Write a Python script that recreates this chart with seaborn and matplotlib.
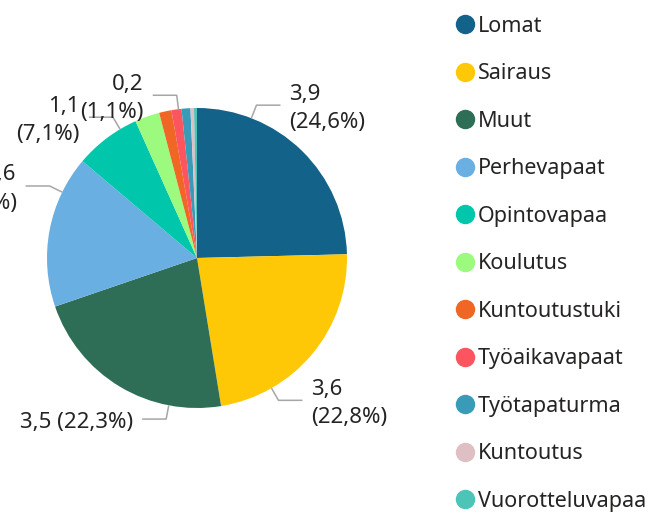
import numpy as np
import matplotlib
matplotlib.use("Agg")
import matplotlib.pyplot as plt
import seaborn as sns
from matplotlib.lines import Line2D

# data
categories = ['Lomat', 'Sairaus', 'Muut', 'Perhevapaat', 'Opintovapaa', 'Koulutus',
              'Kuntoutustuki', 'Työaikavapaat', 'Työtapaturma', 'Kuntoutus', 'Vuorotteluvapaa']
values = [3.88, 3.60, 3.52, 2.59, 1.12, 0.42, 0.21, 0.17, 0.15, 0.06, 0.05]
colors = ['#12628A', '#FFC807', '#2E6D56', '#6AAFE1', '#00C6AB', '#9CFA7E',
          '#F06624', '#FD5560', '#3A9BB8', '#DEC0C4', '#4CC4B8']

# which slices get a data label: (index, anchor fraction inside wedge, one line?)
shown_labels = [(0, 0.24, False), (1, 0.75, False), (2, 0.25, True),
                (3, 0.76, False), (4, 0.74, False), (7, 0.70, False)]

sns.set_theme(style="white")
plt.rcParams['font.family'] = ['Noto Sans', 'DejaVu Sans']
txt_color = '#252423'

fig = plt.figure(figsize=(6.54, 5.16), dpi=100)
ax = fig.add_axes([0, 0, 1, 1])

R = 150
wedges, _ = ax.pie(values, colors=sns.color_palette(colors), startangle=90,
                   counterclock=False, radius=R, center=(0, 0),
                   wedgeprops=dict(linewidth=0))
ax.set_xlim(-197, 457)
ax.set_ylim(-258, 258)
ax.set_aspect('equal')
ax.axis('off')

total = sum(values)


def fmt(v, nd=1):
    return f"{v:.{nd}f}".replace('.', ',')


for idx, frac, one_line in shown_labels:
    w = wedges[idx]
    ang = np.deg2rad(w.theta2 - frac * (w.theta2 - w.theta1))
    rim = np.array([np.cos(ang), np.sin(ang)]) * R
    elbow = np.array([np.cos(ang), np.sin(ang)]) * (R + 14)
    side = 1 if rim[0] >= 0 else -1
    end = elbow + np.array([side * 24, 0])
    ax.plot([rim[0], elbow[0], end[0]], [rim[1], elbow[1], end[1]],
            color='#A6A6A6', lw=1.1, solid_capstyle='butt')
    pct = values[idx] / total * 100
    sep = ' ' if one_line else '\n'
    label = f"{fmt(values[idx])}{sep}({fmt(pct)}%)"
    ax.text(end[0] + side * 9, end[1] - 3, label, ha='left' if side > 0 else 'right',
            va='center', fontsize=16, color=txt_color, linespacing=1.45)

handles = [Line2D([0], [0], marker='o', linestyle='', markersize=14,
                  markerfacecolor=c, markeredgewidth=0) for c in colors]
leg = fig.legend(handles, categories, loc='upper left', bbox_to_anchor=(0.683, 0.986),
                 frameon=False, fontsize=15.5, handlelength=0.9, handletextpad=0.15,
                 labelspacing=1.23, borderaxespad=0)
for t in leg.get_texts():
    t.set_color(txt_color)

fig.savefig('out.png', dpi=100)
